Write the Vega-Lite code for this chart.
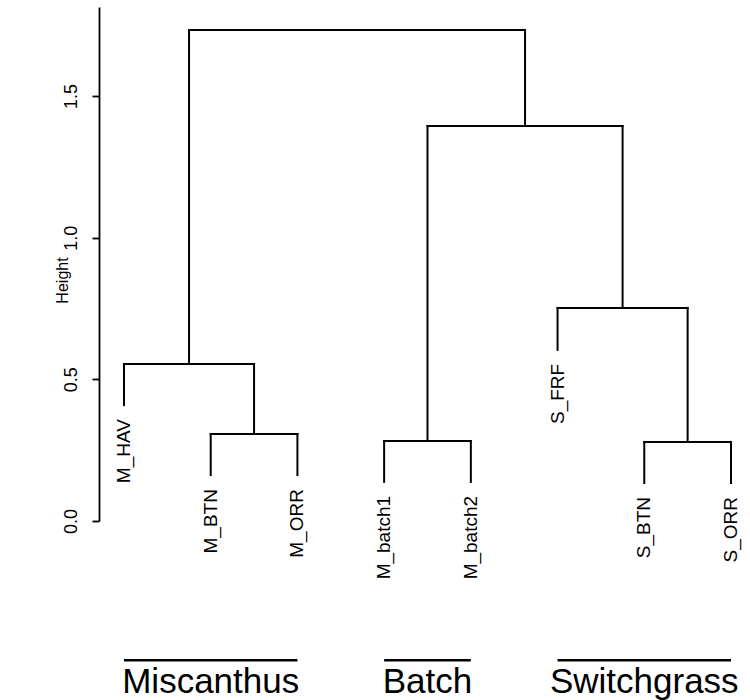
{
  "$schema": "https://vega.github.io/schema/vega-lite/v6.json",
  "width": 651,
  "height": 514,
  "autosize": {"type": "none"},
  "padding": {"left": 99, "top": 7, "right": 0, "bottom": 179},
  "background": "white",
  "config": {
    "view": {"stroke": null},
    "font": "Liberation Sans",
    "axisY": {
      "grid": false, "domain": true, "domainColor": "black", "domainWidth": 1.8,
      "ticks": true, "tickColor": "black", "tickWidth": 1.8, "tickSize": 7,
      "labelAngle": 270, "labelAlign": "center", "labelBaseline": "bottom",
      "labelPadding": 12, "labelFontSize": 18, "labelColor": "black",
      "labelFont": "Liberation Sans", "labelFlush": false, "labelOverlap": false,
      "titleFontSize": 16, "titleFontWeight": "normal", "titleColor": "black",
      "titleFont": "Liberation Sans", "titleAngle": 270, "titleAlign": "center",
      "titleBaseline": "middle", "titleX": -37, "titleY": 273
    }
  },
  "datasets": {
    "merges": [
      {"node": "A", "xl": 2, "xr": 3, "h": 0.307, "hl": 0.162, "hr": 0.162},
      {"node": "B", "xl": 1, "xr": 2.5, "h": 0.554, "hl": 0.409, "hr": 0.307},
      {"node": "C", "xl": 4, "xr": 5, "h": 0.282, "hl": 0.138, "hr": 0.138},
      {"node": "D", "xl": 7, "xr": 8, "h": 0.279, "hl": 0.134, "hr": 0.134},
      {"node": "E", "xl": 6, "xr": 7.5, "h": 0.752, "hl": 0.604, "hr": 0.279},
      {"node": "F", "xl": 4.5, "xr": 6.75, "h": 1.394, "hl": 0.282, "hr": 0.752},
      {"node": "G", "xl": 1.75, "xr": 5.625, "h": 1.733, "hl": 0.554, "hr": 1.394}
    ],
    "leaves": [
      {"label": "M_HAV", "pos": 1, "bottom": 0.409},
      {"label": "M_BTN", "pos": 2, "bottom": 0.162},
      {"label": "M_ORR", "pos": 3, "bottom": 0.162},
      {"label": "M_batch1", "pos": 4, "bottom": 0.138},
      {"label": "M_batch2", "pos": 5, "bottom": 0.138},
      {"label": "S_FRF", "pos": 6, "bottom": 0.604},
      {"label": "S_BTN", "pos": 7, "bottom": 0.134},
      {"label": "S_ORR", "pos": 8, "bottom": 0.134}
    ],
    "groups": [
      {"group": "Miscanthus", "start": 1, "end": 3, "mid": 2},
      {"group": "Batch", "start": 4, "end": 5, "mid": 4.5},
      {"group": "Switchgrass", "start": 6, "end": 8, "mid": 7}
    ]
  },
  "layer": [
    {
      "data": {"name": "merges"},
      "mark": {"type": "rule", "color": "black", "strokeWidth": 2, "strokeCap": "square"},
      "encoding": {
        "x": {"field": "xl", "type": "quantitative", "scale": {"domain": [0.7117, 8.2194], "nice": false, "zero": false}, "axis": null},
        "x2": {"field": "xr"},
        "y": {
          "field": "h", "type": "quantitative", "title": "Height",
          "scale": {"domain": [0, 1.814], "nice": false, "zero": false},
          "axis": {"values": [0, 0.5, 1, 1.5], "format": ".1f", "titleFontSize": 16, "titleX": -37, "titleY": 273}
        }
      }
    },
    {
      "data": {"name": "merges"},
      "mark": {"type": "rule", "color": "black", "strokeWidth": 2, "strokeCap": "square"},
      "encoding": {
        "x": {"field": "xl", "type": "quantitative", "axis": null},
        "y": {"field": "h", "type": "quantitative", "title": "Height", "axis": {"values": [0, 0.5, 1, 1.5], "format": ".1f", "titleFontSize": 16, "titleX": -37, "titleY": 273}},
        "y2": {"field": "hl"}
      }
    },
    {
      "data": {"name": "merges"},
      "mark": {"type": "rule", "color": "black", "strokeWidth": 2, "strokeCap": "square"},
      "encoding": {
        "x": {"field": "xr", "type": "quantitative", "axis": null},
        "y": {"field": "h", "type": "quantitative", "title": "Height", "axis": {"values": [0, 0.5, 1, 1.5], "format": ".1f", "titleFontSize": 16, "titleX": -37, "titleY": 273}},
        "y2": {"field": "hr"}
      }
    },
    {
      "data": {"name": "leaves"},
      "mark": {"type": "text", "angle": 270, "align": "right", "baseline": "middle", "dx": -14, "fontSize": 19, "font": "Liberation Sans", "color": "black"},
      "encoding": {
        "x": {"field": "pos", "type": "quantitative", "axis": null},
        "y": {"field": "bottom", "type": "quantitative", "title": "Height", "axis": {"values": [0, 0.5, 1, 1.5], "format": ".1f", "titleFontSize": 16, "titleX": -37, "titleY": 273}},
        "text": {"field": "label", "type": "nominal"}
      }
    },
    {
      "data": {"name": "groups"},
      "mark": {"type": "rule", "color": "black", "strokeWidth": 2.5},
      "encoding": {
        "x": {"field": "start", "type": "quantitative", "axis": null},
        "x2": {"field": "end"},
        "y": {"datum": -0.491, "type": "quantitative", "title": "Height", "axis": {"values": [0, 0.5, 1, 1.5], "format": ".1f", "titleFontSize": 16, "titleX": -37, "titleY": 273}}
      }
    },
    {
      "data": {"name": "groups"},
      "mark": {"type": "text", "align": "center", "baseline": "alphabetic", "fontSize": 35, "font": "Liberation Sans", "color": "black"},
      "encoding": {
        "x": {"field": "mid", "type": "quantitative", "axis": null},
        "y": {"datum": -0.606, "type": "quantitative", "title": "Height", "axis": {"values": [0, 0.5, 1, 1.5], "format": ".1f", "titleFontSize": 16, "titleX": -37, "titleY": 273}},
        "text": {"field": "group", "type": "nominal"}
      }
    }
  ]
}
